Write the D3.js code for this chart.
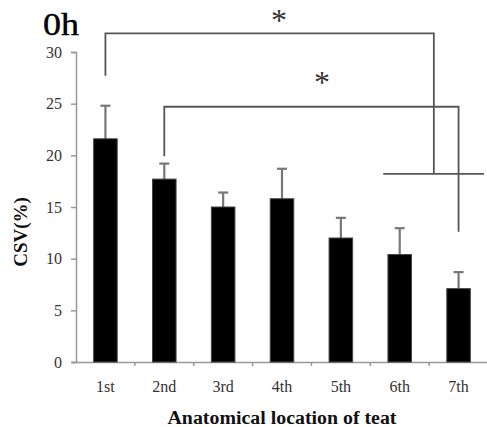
<!DOCTYPE html>
<html><head><meta charset="utf-8">
<script src="https://cdn.jsdelivr.net/npm/d3@7"></script>
<style>body{margin:0;background:#fff}svg{display:block}</style>
</head><body>
<script>
const categories = ["1st","2nd","3rd","4th","5th","6th","7th"];
const means = [21.6, 17.7, 15.0, 15.8, 12.0, 10.4, 7.1];
const errors = [3.2, 1.5, 1.4, 2.9, 1.95, 2.55, 1.6];
const yTicks = [0,5,10,15,20,25,30];
// significance brackets: left index, right index, top value, left leg end, right leg end
const brackets = [
  {from:0, to:5.58, top:31.8, leftEnd:27.7, rightEnd:18.2},
  {from:1, to:6.0, top:24.7, leftEnd:19.9, rightEnd:12.6}
];
const groupLine = {from:4.72, to:6.43, value:18.2};
const stars = [{pos:2.95, value:33.3},{pos:3.68, value:27.3}];

const W=487,H=427;
const FF='"Liberation Serif"';
const svg=d3.select("body").append("svg").attr("width",W).attr("height",H);
const x=d3.scaleBand().domain(categories).range([76,488]).padding(0);
const xi=d3.scaleLinear().domain([-0.5,6.5]).range([76,488]);
const y=d3.scaleLinear().domain([0,30]).range([362,52]);
const axisCol="#999";

// y axis
const ya=svg.append("g").attr("transform","translate(76,0)")
  .call(d3.axisLeft(y).tickValues(yTicks).tickSize(5).tickPadding(9));
ya.select(".domain").attr("stroke",axisCol).attr("stroke-width",1.5);
ya.selectAll(".tick line").attr("stroke",axisCol).attr("stroke-width",1.5);
ya.selectAll(".tick text").style("font-family",FF).style("font-size","16px").attr("fill","#333");

// x axis
const xa=svg.append("g").attr("transform","translate(0,362)")
  .call(d3.axisBottom(x).tickSize(0).tickPadding(19));
xa.select(".domain").attr("d","M72,0.5H488").attr("stroke",axisCol).attr("stroke-width",1.5);
xa.selectAll(".tick text").style("font-family",FF).style("font-size","16px").attr("fill","#333");
// tick marks at band boundaries
svg.append("g").selectAll("line").data(categories.slice(1)).join("line")
  .attr("x1",d=>x(d)).attr("x2",d=>x(d)).attr("y1",362).attr("y2",366)
  .attr("stroke",axisCol).attr("stroke-width",1.5);

const bw=x.bandwidth()*0.4;
// error bars
const eb=svg.append("g").attr("stroke","#777").attr("stroke-width",2.2);
categories.forEach((c,i)=>{
  const cx=x(c)+x.bandwidth()/2;
  eb.append("line").attr("x1",cx).attr("x2",cx).attr("y1",y(means[i])).attr("y2",y(means[i]+errors[i]));
  eb.append("line").attr("x1",cx-5).attr("x2",cx+5).attr("y1",y(means[i]+errors[i])).attr("y2",y(means[i]+errors[i]));
});
// bars
svg.append("g").selectAll("rect").data(means).join("rect")
  .attr("x",(d,i)=>x(categories[i])+x.bandwidth()/2-bw/2)
  .attr("width",bw).attr("y",d=>y(d)).attr("height",d=>y(0)-y(d))
  .attr("fill","#000").attr("stroke","#444").attr("stroke-width",1);

// brackets
const bg=svg.append("g").attr("stroke","#555").attr("stroke-width",1.8).attr("fill","none");
brackets.forEach(b=>{
  bg.append("path").attr("d",`M${xi(b.from)},${y(b.leftEnd)}V${y(b.top)}H${xi(b.to)}V${y(b.rightEnd)}`);
});
bg.append("line").attr("x1",xi(groupLine.from)).attr("x2",xi(groupLine.to))
  .attr("y1",y(groupLine.value)).attr("y2",y(groupLine.value));
svg.append("g").selectAll("text").data(stars).join("text")
  .attr("x",d=>xi(d.pos)).attr("y",d=>y(d.value)+13).attr("text-anchor","middle")
  .style("font-family",FF).style("font-size","32px").attr("fill","#333").text("*");

// title
svg.append("text").attr("x",43).attr("y",35).style("font-family",FF).style("font-size","31px")
  .attr("textLength",36).attr("lengthAdjust","spacingAndGlyphs").attr("fill","#000")
  .attr("stroke","#000").attr("stroke-width",0.4).text("0h");
// axis labels
svg.append("text").attr("x",282).attr("y",424).attr("text-anchor","middle")
  .style("font-family",FF).style("font-weight","bold").style("font-size","18px").attr("fill","#111")
  .attr("textLength",229).attr("lengthAdjust","spacingAndGlyphs")
  .text("Anatomical location of teat");
svg.append("text").attr("transform","translate(27,232) rotate(-90)").attr("text-anchor","middle")
  .style("font-family",FF).style("font-weight","bold").style("font-size","19px").attr("fill","#111")
  .text("CSV(%)");
</script>
</body></html>
